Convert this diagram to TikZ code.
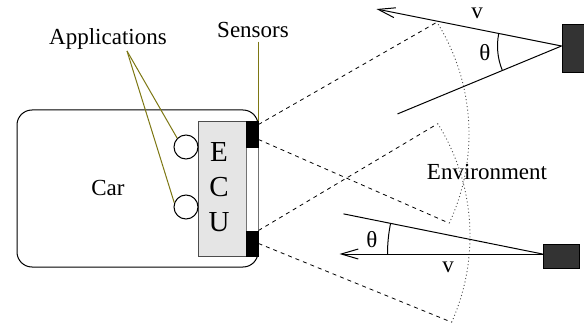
\documentclass[tikz,border=0pt]{standalone}
\usepackage{fontspec}
\setmainfont{Liberation Serif}
\usetikzlibrary{arrows.meta}

\begin{document}
\begin{tikzpicture}[
        x=1pt, y=1pt,
        line width=1pt,
        >={Straight Barb[length=17pt,width=10pt]},
        font=\fontsize{23}{27}\selectfont,
        lead/.style={draw=olive!85!black, line width=1pt},
        beam/.style={dash pattern=on 4pt off 4pt, line width=0.8pt},
        fovarc/.style={dash pattern=on 1pt off 2.5pt, line width=0.9pt, black!70},
        sensorbox/.style={draw, fill=black, minimum width=12pt, minimum height=25pt, inner sep=0pt},
        appcircle/.style={draw, circle, fill=white, minimum size=24pt, inner sep=0pt},
        target/.style={draw, fill=black!80, inner sep=0pt}
    ]
    \useasboundingbox (0,0) rectangle (584,330);

    % car with ECU
    \node[draw, rounded corners=15pt, minimum width=241pt, minimum height=157pt] (car) at (137.5,141.5) {};
    \node (carlabel) at (108,142) {Car};
    \node[draw=black!70, fill=black!10, minimum width=48pt, minimum height=134pt] (ecu) at (222,141) {};
    \node[draw=black!55, fill=white, minimum width=12pt, minimum height=84pt] (gap) at (252,141) {};
    \node[font=\fontsize{29}{35}\selectfont, align=center] (ecutext) at (219,143) {E\\C\\U};

    % sensors
    \node[sensorbox] (senA) at (252,195.5) {};
    \node[sensorbox] (senB) at (252,86.5) {};
    \node (senlabel) at (253,300) {Sensors};
    \draw[lead] (senlabel.south -| senA.north east) -- (senA.north east);

    % applications
    \node[appcircle] (appA) at (186,183) {};
    \node[appcircle] (appB) at (186,123) {};
    \node (applabel) at (108,291) {Applications};
    \coordinate (appfoot) at (127,279);
    \draw[lead] (appfoot) -- (appA.north west);
    \draw[lead] (appfoot) -- (appB.160);

    % fields of view
    \coordinate (fovA) at (258,196);
    \coordinate (fovB) at (258,94);
    \draw[beam] ([yshift=-3pt]senA.north east) -- ([shift={(32:211)}]fovA);
    \draw[beam] ([yshift=-5pt]senA.east) -- ([shift={(-25:211)}]fovA);
    \draw[fovarc] ([shift={(-25:211)}]fovA) arc[start angle=-25, end angle=32, radius=211];
    \draw[beam] (senB.north east) -- ([shift={(32:212)}]fovB);
    \draw[beam] (senB.east) -- ([shift={(-24:212)}]fovB);
    \draw[fovarc] ([shift={(-24:212)}]fovB) arc[start angle=-24, end angle=32, radius=212];
    \node (envlabel) at (487,158) {Environment};

    % upper object
    \node[target, minimum width=38pt, minimum height=48pt] (tgtA) at (581,281) {};
    \coordinate (apexA) at ([yshift=3pt]tgtA.west);
    \draw[->] (apexA) -- ++(168.7:188.7);
    \draw (apexA) -- ++(202.5:177.5);
    \draw (apexA) ++(168.7:64) arc[start angle=168.7, end angle=202.5, radius=64];
    \node (thetaA) at (485,277) {θ};
    \node (vA) at (477,317) {v};

    % lower object
    \node[target, minimum width=36pt, minimum height=24pt] (tgtB) at (561,74) {};
    \coordinate (apexB) at ([yshift=2pt]tgtB.west);
    \draw[->] (apexB) -- ++(180:203);
    \draw (apexB) -- ++(168.6:203);
    \draw (apexB) ++(168.6:155) arc[start angle=168.6, end angle=180, radius=155];
    \node (thetaB) at (372,90) {θ};
    \node (vB) at (448,63) {v};
\end{tikzpicture}
\end{document}
